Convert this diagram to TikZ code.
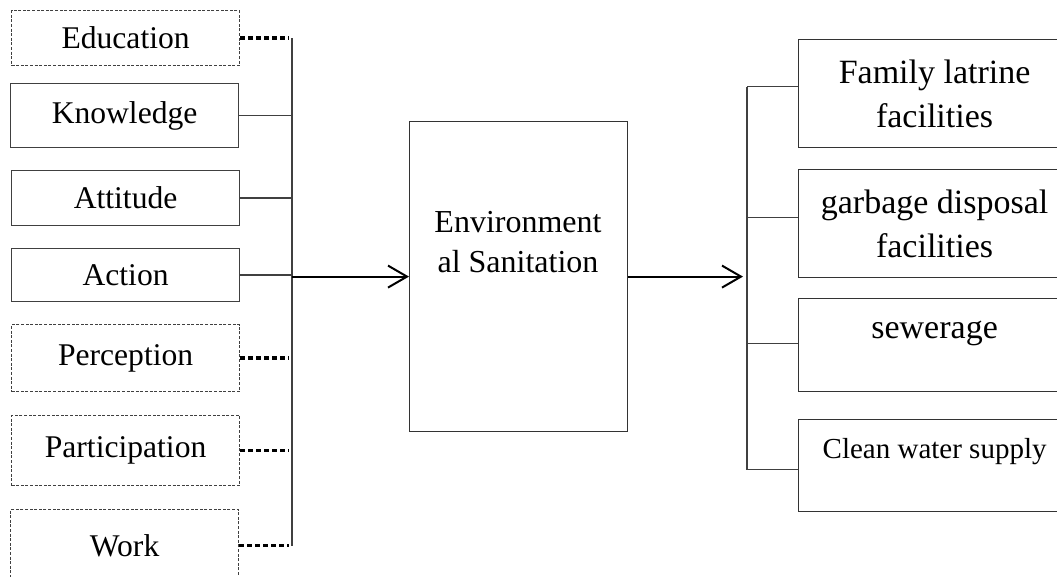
\documentclass[tikz,border=0pt]{standalone}
\usepackage{fontspec}
\setmainfont{Liberation Serif}
\usetikzlibrary{arrows.meta, calc}

\begin{document}
\begin{tikzpicture}[x=0.5pt, y=-0.5pt,
  factor/.style={draw=black!75, line width=0.6pt, minimum width=114pt, inner sep=0pt,
    anchor=north west, font=\fontsize{15.8}{19}\selectfont},
  proxy/.style={factor, dash pattern=on 1.5pt off 0.8pt},
  outcome/.style={draw=black!80, line width=0.6pt, minimum width=136pt, inner sep=0pt,
    anchor=north west, align=center, font=\fontsize{17}{22}\selectfont},
  link/.style={draw=black!75, line width=0.6pt},
  dotlink/.style={line width=1.6pt, dash pattern=on 2.4pt off 1.6pt, shorten >=1.5pt},
  flow/.style={line width=1pt, -{Straight Barb[length=9.5pt, width=11pt]}}]
  \useasboundingbox (0,0) rectangle (1057,577);

  % left side: factors
  \node[proxy, minimum height=27.5pt] (edu) at (11,10) {Education};
  \node[factor, minimum height=32pt] (know) at (10,83) {Knowledge};
  \node[factor, minimum height=27.5pt] (att) at (11,170) {Attitude};
  \node[factor, minimum height=26.5pt] (act) at (11,248) {Action};
  \node[proxy, minimum height=33.5pt] (perc) at (11,324) {Perception};
  \node[proxy, minimum height=35pt] (part) at (11,415) {Participation};
  \node[proxy, minimum height=36pt] (work) at (10,509) {Work};

  \coordinate (lbus) at (292,0);
  \foreach \b in {edu, perc, part, work}
    \draw[dotlink] (\b.east) -- (\b.east -| lbus);
  \foreach \b in {know, att, act}
    \draw[link] (\b.east) -- (\b.east -| lbus);
  \draw[link] (edu.east -| lbus) -- (work.east -| lbus);

  % middle
  \node[draw=black!80, line width=0.6pt, anchor=north west, minimum width=109pt,
    minimum height=155pt, inner sep=0pt] (env) at (409,121) {};
  \node[align=center, font=\fontsize{16}{20}\selectfont] (envt) at (518,242)
    {Environment\\al Sanitation};
  \draw[flow] (env.west -| lbus) -- (env.west);

  % right side: outcomes
  \node[outcome, minimum height=54pt] (fam) at (798,39) {Family latrine\\facilities};
  \node[outcome, minimum height=54pt] (garb) at (798,169) {garbage disposal\\facilities};
  \node[outcome, minimum height=46.5pt, text height=8pt, text depth=14.5pt] (sew) at (798,298) {sewerage};
  \node[outcome, minimum height=46pt, text height=10pt, text depth=17pt,
    font=\fontsize{14.5}{18}\selectfont] (water) at (798,419) {Clean water supply};

  \coordinate (rbus) at (747,0);
  \foreach \b/\d in {fam/-7, garb/-6, sew/-1.5, water/4} {
    \coordinate (\b c) at ($(\b.west)+(0,\d)$);
    \draw[link] (\b c) -- (\b c -| rbus);
  }
  \draw[link] (famc -| rbus) -- (waterc -| rbus);
  \draw[flow, shorten >=2pt] (env.east) -- (env.east -| rbus);
\end{tikzpicture}
\end{document}
